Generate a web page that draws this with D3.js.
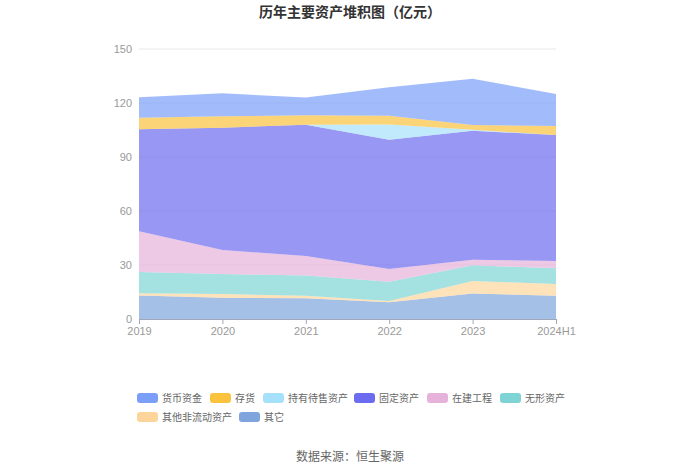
<!DOCTYPE html>
<html><head><meta charset="utf-8">
<script src="https://cdn.jsdelivr.net/npm/d3@7"></script>
<style>body{margin:0;background:#fff;font-family:"Noto Sans CJK SC","Microsoft YaHei",sans-serif;}</style>
</head><body><svg id="c" width="700" height="474"></svg>
<script>
const categories = ["2019","2020","2021","2022","2023","2024H1"];
const seriesNames = ["其它","其他非流动资产","无形资产","在建工程","固定资产","持有待售资产","存货","货币资金"];
const other      = [13.0, 11.8, 11.5, 9.3, 14.1, 12.9];
const otherNonCur= [1.3, 2.1, 1.4, 0.7, 7.0, 6.5];
const intangible = [11.8, 11.1, 11.2, 10.7, 8.7, 8.8];
const construct  = [22.6, 13.3, 10.9, 7.1, 3.1, 4.0];
const fixed      = [56.7, 68.0, 72.9, 71.8, 71.7, 70.0];
const heldSale   = [0, 0, 0, 8.5, 0.5, 0];
const inventory  = [6.4, 6.3, 5.3, 4.8, 2.7, 5.0];
const cash       = [11.4, 12.8, 9.8, 15.8, 25.7, 17.8];
const yTicks = [0, 30, 60, 90, 120, 150];
const legendOrder = ["货币资金","存货","持有待售资产","固定资产","在建工程","无形资产","其他非流动资产","其它"];
const colors = {"货币资金":"#7b9ff9","存货":"#fbc23e","持有待售资产":"#a6e1fb","固定资产":"#6c6cf0","在建工程":"#e6b2da","无形资产":"#7ed4d4","其他非流动资产":"#fdd59b","其它":"#7fa5dc"};

const seriesData = [other, otherNonCur, intangible, construct, fixed, heldSale, inventory, cash];
const rows = categories.map((c,i)=>{const r={cat:c}; seriesNames.forEach((n,k)=>r[n]=seriesData[k][i]); return r;});

const svg = d3.select("#c");
const x = d3.scalePoint().domain(categories).range([139,556]);
const y = d3.scaleLinear().domain([0,150]).range([319,49]);

svg.append("g").selectAll("line").data(yTicks.filter(t=>t>0)).join("line")
  .attr("x1",139).attr("x2",556).attr("y1",d=>y(d)).attr("y2",d=>y(d))
  .attr("stroke","#e8e8e8").attr("stroke-width",1);

const layers = d3.stack().keys(seriesNames)(rows);
const area = d3.area().x(d=>x(d.data.cat)).y0(d=>y(d[0])).y1(d=>y(d[1]));
svg.append("g").selectAll("path").data(layers).join("path")
  .attr("d",area).attr("fill",d=>colors[d.key]).attr("fill-opacity",0.7);

svg.append("g").selectAll("text").data(yTicks).join("text")
  .attr("x",132).attr("y",d=>y(d)+4).attr("text-anchor","end")
  .attr("font-size",11).attr("fill","#999").attr("font-family","Liberation Sans, sans-serif").text(d=>d);

const xa = svg.append("g").attr("transform","translate(0,319)")
  .call(d3.axisBottom(x).tickSize(5).tickPadding(3));
xa.select(".domain").attr("stroke","#a0a8b8");
xa.selectAll(".tick line").attr("stroke","#a0a8b8");
xa.selectAll("text").attr("fill","#999").attr("font-size",11).attr("font-family","Liberation Sans, sans-serif");

svg.append("text").attr("x",350).attr("y",17).attr("text-anchor","middle")
  .attr("font-size",14).attr("font-weight","bold").attr("fill","#333").text("历年主要资产堆积图（亿元）");

const legPos = [[137,398],[210,398],[263,398],[354,398],[427,398],[500,398],[137,417],[239,417]];
const lg = svg.append("g");
legendOrder.forEach((n,i)=>{
  const [lx,ly] = legPos[i];
  lg.append("rect").attr("x",lx).attr("y",ly-5).attr("width",21).attr("height",10).attr("rx",3)
    .attr("fill",colors[n]);
  lg.append("text").attr("x",lx+25).attr("y",ly+3.5).attr("font-size",10).attr("fill","#666").text(n);
});

svg.append("text").attr("x",350).attr("y",461).attr("text-anchor","middle")
  .attr("font-size",12).attr("fill","#666").text("数据来源：恒生聚源");
</script></body></html>
